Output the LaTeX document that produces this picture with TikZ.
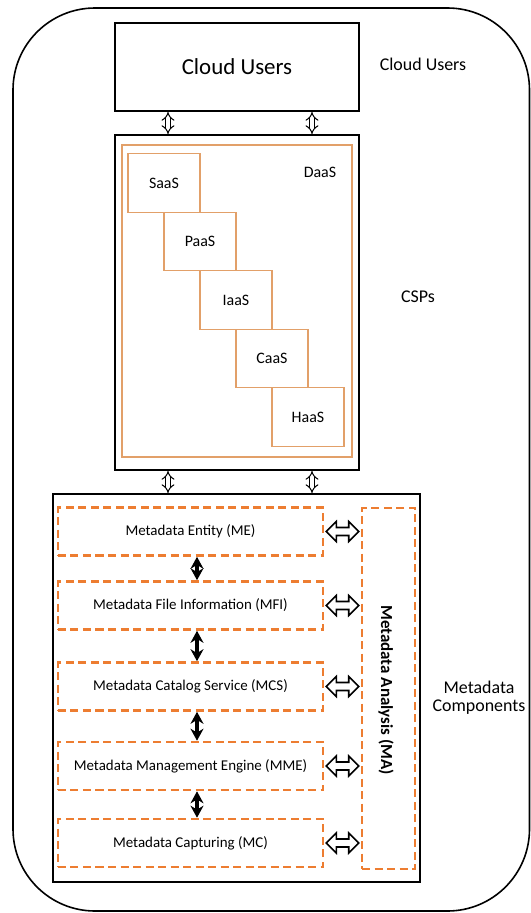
\documentclass[tikz,border=0pt]{standalone}
\usepackage{fontspec}
\setmainfont{Carlito}
\usetikzlibrary{arrows.meta}
\definecolor{org}{RGB}{237,125,49}
\definecolor{tanline}{RGB}{226,160,105}
\begin{document}
\begin{tikzpicture}[x=1bp,y=-1bp,
  blackbox/.style={draw=black, line width=2bp, inner sep=0pt},
  tanbox/.style={draw=tanline, line width=1.3bp, inner sep=0pt, minimum width=72bp, minimum height=58.5bp, font=\fontsize{16}{18}\selectfont},
  dashbox/.style={draw=org, line width=2.6bp, dash pattern=on 8bp off 4.5bp, inner sep=0pt, minimum width=265bp, minimum height=48bp, font=\fontsize{15}{17}\selectfont},
  sidelabel/.style={font=\fontsize{18}{21}\selectfont, align=center},
  smallarr/.style={double, double distance=3.5bp, line width=1bp, {Implies}-{Implies}},
  hollowarr/.style={draw=black, fill=white, line width=1.6bp, line join=miter},
  blackarr/.style={line width=3.5bp, {Stealth[length=12bp,width=13bp]}-{Stealth[length=12bp,width=13bp]}}
]
\useasboundingbox (0,0) rectangle (531,913);
\draw[line width=1.6bp, rounded corners=82bp] (13,8) rectangle (529.5,911);

% Cloud users
\node[blackbox, minimum width=244bp, minimum height=88bp, font=\fontsize{23}{26}\selectfont] (cu) at (237,67) {Cloud Users};
\node[sidelabel] (cul) at (423,64) {Cloud Users};

% CSPs
\node[blackbox, minimum width=244bp, minimum height=335bp] (csp) at (237,302.5) {};
\node[draw=tanline, line width=1.3bp, minimum width=230bp, minimum height=312bp, inner sep=0pt] (daas) at (237,301) {};
\node[font=\fontsize{16}{18}\selectfont] (daasl) at (320,172) {DaaS};
\node[tanbox] (saas) at (164,183) {SaaS};
\node[tanbox] (paas) at (200,241.5) {PaaS};
\node[tanbox] (iaas) at (236,300) {IaaS};
\node[tanbox] (caas) at (272,358.5) {CaaS};
\node[tanbox] (haas) at (308,417) {HaaS};
\node[sidelabel] (cspl) at (418,297) {CSPs};

% Metadata components
\node[blackbox, minimum width=367bp, minimum height=388bp] (mdc) at (236.5,688) {};
\node[dashbox] (me) at (190.5,531.5) {Metadata Entity (ME)};
\node[dashbox] (mfi) at (190.5,605.5) {Metadata File Information (MFI)};
\node[dashbox] (mcs) at (190.5,686.5) {Metadata Catalog Service (MCS)};
\node[dashbox] (mme) at (190.5,766) {Metadata Management Engine (MME)};
\node[dashbox] (mc) at (190.5,843) {Metadata Capturing (MC)};
\node[draw=org, line width=2.6bp, dash pattern=on 8bp off 4.5bp, inner sep=0pt, minimum width=53bp, minimum height=361bp] (ma) at (388.5,688.5) {};
\node[rotate=-90, font=\bfseries\fontsize{17}{19}\selectfont] (mal) at (386,690) {Metadata Analysis (MA)};
\node[sidelabel] (mdcl) at (479,698) {Metadata\\[-3bp]Components};

% connectors
\coordinate (ax1) at (168,0);
\coordinate (ax2) at (312,0);
\coordinate (bx) at (197,0);
\draw[smallarr] (cu.south -| ax1) -- (csp.north -| ax1);
\draw[smallarr] (cu.south -| ax2) -- (csp.north -| ax2);
\draw[smallarr] (csp.south -| ax1) -- (mdc.north -| ax1);
\draw[smallarr] (csp.south -| ax2) -- (mdc.north -| ax2);

\draw[blackarr] (me.south -| bx) -- (mfi.north -| bx);
\draw[blackarr] (mfi.south -| bx) -- (mcs.north -| bx);
\draw[blackarr] (mcs.south -| bx) -- (mme.north -| bx);
\draw[blackarr] (mme.south -| bx) -- (mc.north -| bx);

\foreach \n in {me,mfi,mcs,mme,mc}{
  \coordinate (A) at ([xshift=2bp]\n.east);
  \coordinate (B) at ([xshift=-2bp]\n.east -| ma.west);
  \draw[hollowarr] (A) -- ([shift={(10,-10)}]A) -- ([shift={(10,-4)}]A)
     -- ([shift={(-10,-4)}]B) -- ([shift={(-10,-10)}]B) -- (B)
     -- ([shift={(-10,10)}]B) -- ([shift={(-10,4)}]B)
     -- ([shift={(10,4)}]A) -- ([shift={(10,10)}]A) -- cycle;
}
\end{tikzpicture}
\end{document}
